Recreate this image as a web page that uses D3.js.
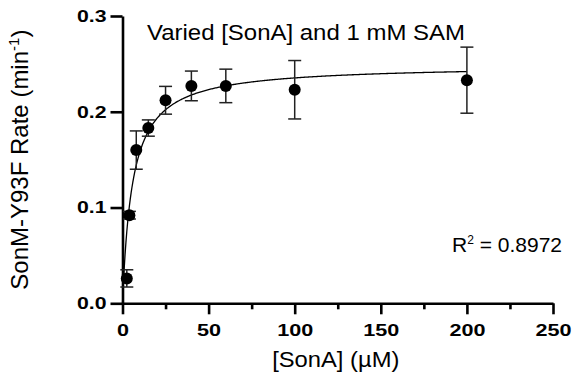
<!DOCTYPE html>
<html>
<head>
<meta charset="utf-8">
<script src="https://cdn.jsdelivr.net/npm/d3@7"></script>
<style>
  body { margin: 0; background: #fff; }
  text { font-family: Arial, "Liberation Sans", sans-serif; fill: #000; }
</style>
</head>
<body>
<div id="chart"></div>
<script>
'use strict'

// data
const concentration = [2.5, 4, 8, 15, 25, 40, 60, 100, 200]   // [SonA] (µM)
const rate = [0.026, 0.092, 0.160, 0.183, 0.212, 0.227, 0.227, 0.223, 0.233]
const rateSD = [0.009, 0.004, 0.020, 0.0085, 0.0145, 0.0155, 0.0175, 0.0305, 0.0345]
const xTicks = [0, 50, 100, 150, 200, 250]
const xMinorTicks = [25, 75, 125, 175, 225]
const yTicks = [0, 0.1, 0.2, 0.3]

// Michaelis-Menten fit
const fitVmax = 0.249
const fitKm = 5.8
const rSquared = '0.8972'

////////////////////////////////////
//////////// svg setup /////////////
////////////////////////////////////

const svgWidth = 573
const svgHeight = 376
const margin = { left: 122.5, right: 20, top: 16, bottom: 72.7 }
const width = svgWidth - margin.left - margin.right
const height = svgHeight - margin.top - margin.bottom

const svg = d3.select('#chart')
    .append('svg')
    .attr('width', svgWidth)
    .attr('height', svgHeight)

const g = svg.append('g')
    .attr('transform', `translate(${margin.left},${margin.top})`)

// glyphs in the figure are a little wider than plain Arial
const stretch = (sel, sx) => sel.each(function () {
    const t = d3.select(this)
    const x = +t.attr('x') || 0
    const y = +t.attr('y') || 0
    t.attr('x', 0).attr('y', 0)
        .attr('transform', `translate(${x},${y}) scale(${sx},1)`)
})

////////////////////////////////////
//////////// Scales ////////////////
////////////////////////////////////

const x = d3.scaleLinear().domain([0, 250]).range([0, width])
const y = d3.scaleLinear().domain([0, 0.3]).range([height, 0])

////////////////////////////////////
//////////// axes //////////////////
////////////////////////////////////

const xAxis = g.append('g')
    .attr('transform', `translate(0,${height})`)
    .call(d3.axisBottom(x).tickValues(xTicks).tickSize(11).tickSizeOuter(0).tickPadding(10)
        .tickFormat(d3.format('d')))

g.append('g')
    .attr('transform', `translate(0,${height})`)
    .call(d3.axisBottom(x).tickValues(xMinorTicks).tickSize(6).tickSizeOuter(0).tickFormat(''))
    .call(a => a.select('.domain').remove())

const yAxis = g.append('g')
    .call(d3.axisLeft(y).tickValues(yTicks).tickSize(12).tickSizeOuter(0).tickPadding(4)
        .tickFormat(d3.format('.1f')))

g.selectAll('.domain, .tick line')
    .attr('stroke', '#000')
    .attr('stroke-width', 2.6)

g.selectAll('.tick text')
    .attr('font-family', 'Arial, "Liberation Sans", sans-serif')
    .attr('font-weight', 'bold')
    .attr('font-size', 17)
    .attr('fill', '#000')

stretch(xAxis.selectAll('.tick text'), 1.27)
stretch(yAxis.selectAll('.tick text'), 1.25)

////////////////////////////////////
//////////// fit curve /////////////
////////////////////////////////////

const curveX = d3.range(0, 200.01, 0.5)
const line = d3.line()
    .x(d => x(d))
    .y(d => y(fitVmax * d / (fitKm + d)))

g.append('path')
    .datum(curveX)
    .attr('d', line)
    .attr('fill', 'none')
    .attr('stroke', '#000')
    .attr('stroke-width', 1.3)

////////////////////////////////////
//////////// points ////////////////
////////////////////////////////////

const points = concentration.map((c, i) => ({ c: c, r: rate[i], sd: rateSD[i] }))
const cap = 6.5

const bars = g.selectAll('.err')
    .data(points)
    .join('g')
    .attr('class', 'err')
    .attr('stroke', '#222')
    .attr('stroke-width', 1.5)

bars.append('line')
    .attr('x1', d => x(d.c)).attr('x2', d => x(d.c))
    .attr('y1', d => y(d.r - d.sd)).attr('y2', d => y(d.r + d.sd))
bars.append('line')
    .attr('x1', d => x(d.c) - cap).attr('x2', d => x(d.c) + cap)
    .attr('y1', d => y(d.r + d.sd)).attr('y2', d => y(d.r + d.sd))
bars.append('line')
    .attr('x1', d => x(d.c) - cap).attr('x2', d => x(d.c) + cap)
    .attr('y1', d => y(d.r - d.sd)).attr('y2', d => y(d.r - d.sd))

g.selectAll('.dot')
    .data(points)
    .join('circle')
    .attr('class', 'dot')
    .attr('cx', d => x(d.c))
    .attr('cy', d => y(d.r))
    .attr('r', 6)
    .attr('fill', '#000')

////////////////////////////////////
//////////// labels ////////////////
////////////////////////////////////

svg.append('text')
    .attr('x', 147)
    .attr('y', 40)
    .attr('font-size', 22)
    .text('Varied [SonA] and 1 mM SAM')
    .call(stretch, 1.09)

svg.append('text')
    .attr('x', margin.left + width / 2 - 2)
    .attr('y', 367)
    .attr('text-anchor', 'middle')
    .attr('font-size', 22)
    .text('[SonA] (µM)')
    .call(stretch, 1.08)

const yTitle = svg.append('text')
    .attr('transform', `translate(28,${margin.top + height / 2}) rotate(-90)`)
    .attr('text-anchor', 'middle')
    .attr('font-size', 24)
yTitle.append('tspan').text('SonM-Y93F Rate (min')
yTitle.append('tspan').attr('font-size', 15).attr('dy', -9).text('-1')
yTitle.append('tspan').attr('dy', 9).text(')')

const r2 = svg.append('text')
    .attr('x', 452)
    .attr('y', 251.5)
    .attr('font-size', 21)
r2.append('tspan').text('R')
r2.append('tspan').attr('font-size', 12).attr('dy', -8).text('2')
r2.append('tspan').attr('dy', 8).text(' = ' + rSquared)
</script>
</body>
</html>
